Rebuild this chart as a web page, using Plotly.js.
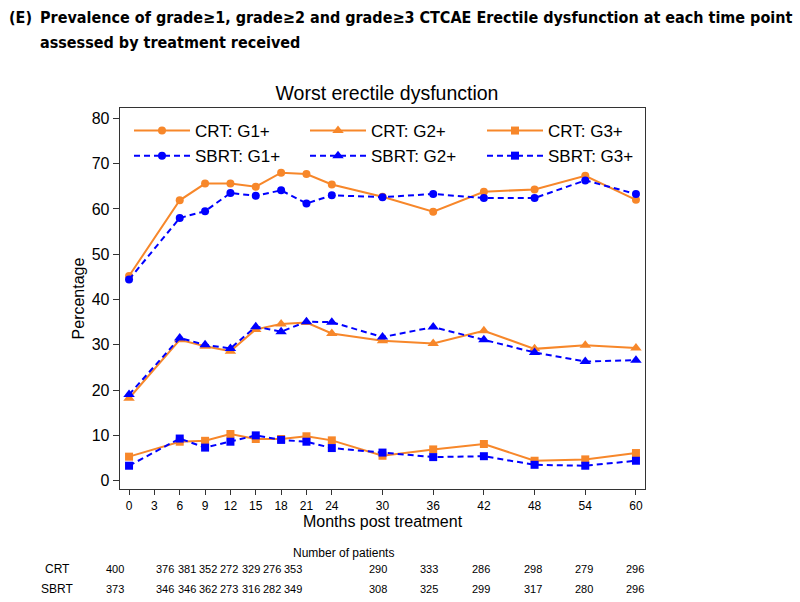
<!DOCTYPE html>
<html>
<head>
<meta charset="utf-8">
<script src="https://cdn.plot.ly/plotly-3.0.1.min.js"></script>
<style>
  html, body { margin: 0; padding: 0; background: #fff; }
  #chart { width: 800px; height: 602px; }
</style>
</head>
<body>
<div id="chart"></div>
<script>
// --- Data ---
const months = [0, 6, 9, 12, 15, 18, 21, 24, 30, 36, 42, 48, 54, 60];
const tickMonths = [0, 3, 6, 9, 12, 15, 18, 21, 24, 30, 36, 42, 48, 54, 60];

const crtG1 = [45.2, 61.9, 65.6, 65.6, 64.9, 68.0, 67.7, 65.4, 62.7, 59.4, 63.8, 64.3, 67.3, 62.0];
const crtG2 = [18.2, 31.1, 29.7, 28.6, 33.4, 34.6, 34.9, 32.5, 30.9, 30.3, 33.1, 29.1, 29.9, 29.3];
const crtG3 = [5.3, 8.6, 8.8, 10.3, 9.2, 9.2, 9.8, 8.9, 5.5, 6.9, 8.1, 4.4, 4.7, 6.1];
const sbrtG1 = [44.4, 58.0, 59.5, 63.5, 62.9, 64.1, 61.2, 63.0, 62.6, 63.3, 62.4, 62.4, 66.3, 63.3];
const sbrtG2 = [19.0, 31.5, 30.0, 29.2, 34.0, 32.9, 35.1, 35.0, 31.7, 33.9, 31.1, 28.3, 26.3, 26.6];
const sbrtG3 = [3.3, 9.3, 7.3, 8.6, 10.0, 9.0, 8.6, 7.2, 6.2, 5.2, 5.4, 3.5, 3.3, 4.4];

const crtN = [400, 376, 381, 352, 272, 329, 276, 353, 290, 333, 286, 298, 279, 296];
const sbrtN = [373, 346, 346, 362, 273, 316, 282, 349, 308, 325, 299, 317, 280, 296];

// --- Layout constants ---
const ORANGE = "#f7872a";
const BLUE = "#0000ff";
const FONT = "Liberation Sans, Arial, sans-serif";
const HEAD_FONT = "DejaVu Sans Condensed, DejaVu Sans, sans-serif";
const PLOT_L = 120, PLOT_R = 645, PLOT_T = 108, PLOT_B = 489;
const PW = PLOT_R - PLOT_L, PH = PLOT_B - PLOT_T;
// x pixel centres of the patient-count columns (Stata packs the early ones)
const tableX = [115, 165, 187, 208, 229, 251, 272, 293, 378, 429, 481, 533, 584, 635];

const px = (x) => (x - PLOT_L) / PW;
const py = (y) => (PLOT_B - y) / PH;

function series(name, y, color, symbol, size, dashed, legend) {
  return {
    x: months,
    y: y,
    name: name,
    type: "scatter",
    mode: "lines+markers",
    legend: legend,
    legendgroup: name,
    line: { color: color, width: 2, dash: dashed ? "6px,4px" : "solid" },
    marker: { color: color, symbol: symbol, size: size },
  };
}

const traces = [
  series("CRT: G1+", crtG1, ORANGE, "circle", 8, false, "legend"),
  series("CRT: G2+", crtG2, ORANGE, "triangle-up", 10, false, "legend2"),
  series("CRT: G3+", crtG3, ORANGE, "square", 8, false, "legend3"),
  series("SBRT: G1+", sbrtG1, BLUE, "circle", 8, true, "legend"),
  series("SBRT: G2+", sbrtG2, BLUE, "triangle-up", 10, true, "legend2"),
  series("SBRT: G3+", sbrtG3, BLUE, "square", 8, true, "legend3"),
];

// --- Annotations: page heading + number-at-risk table ---
function note(text, x, y, size, family, anchor) {
  return {
    text: text, xref: "paper", yref: "paper", x: px(x), y: py(y),
    xanchor: anchor || "center", yanchor: "middle", showarrow: false,
    font: { family: family || FONT, size: size, color: "#000" },
  };
}

const annotations = [
  note("<b>(E)</b>", 7, 18, 16, HEAD_FONT, "left"),
  note("<b>Prevalence of grade≥1, grade≥2 and grade≥3 CTCAE Erectile dysfunction at each time point</b>", 38, 18, 16, HEAD_FONT, "left"),
  note("<b>assessed by treatment received</b>", 38, 43, 16, HEAD_FONT, "left"),
  note("Number of patients", 343, 553, 12),
  note("CRT", 57, 569, 12),
  note("SBRT", 57, 589, 12),
];
crtN.forEach((n, i) => annotations.push(note(String(n), tableX[i], 569, 11)));
sbrtN.forEach((n, i) => annotations.push(note(String(n), tableX[i], 589, 11)));

const legendBase = {
  orientation: "v",
  xanchor: "left",
  yanchor: "top",
  y: py(113),
  font: { family: FONT, size: 17, color: "#000" },
  bgcolor: "rgba(0,0,0,0)",
  itemwidth: 56,
  traceorder: "grouped",
  tracegroupgap: 0,
};

const layout = {
  width: 800,
  height: 602,
  margin: { l: PLOT_L, r: 800 - PLOT_R, t: PLOT_T, b: 602 - PLOT_B },
  paper_bgcolor: "#fff",
  plot_bgcolor: "#fff",
  font: { family: FONT, color: "#000" },
  showlegend: true,
  title: {
    text: "Worst erectile dysfunction",
    font: { family: FONT, size: 19.5, color: "#000" },
    x: 387 / 800, xanchor: "center", y: 1 - 93 / 602, yanchor: "middle",
  },
  xaxis: {
    range: [-1.07, 61.07],
    tickvals: tickMonths,
    ticks: "outside", ticklen: 5, tickcolor: "#333",
    tickfont: { family: FONT, size: 12 },
    showgrid: false, zeroline: false,
    showline: true, linecolor: "#333", linewidth: 1.3, mirror: true,
    title: { text: "Months post treatment", font: { family: FONT, size: 16 }, standoff: 3 },
  },
  yaxis: {
    range: [-1.84, 82.28],
    tickvals: [0, 10, 20, 30, 40, 50, 60, 70, 80],
    ticks: "outside", ticklen: 6, tickcolor: "#333",
    tickfont: { family: FONT, size: 16 },
    showgrid: false, zeroline: false,
    showline: true, linecolor: "#333", linewidth: 1.3, mirror: true,
    title: { text: "Percentage", font: { family: FONT, size: 16 }, standoff: 3 },
  },
  legend: { ...legendBase, x: px(129) },
  legend2: { ...legendBase, x: px(305) },
  legend3: { ...legendBase, x: px(482) },
  annotations: annotations,
};

Plotly.newPlot("chart", traces, layout, { staticPlot: true });
</script>
</body>
</html>
